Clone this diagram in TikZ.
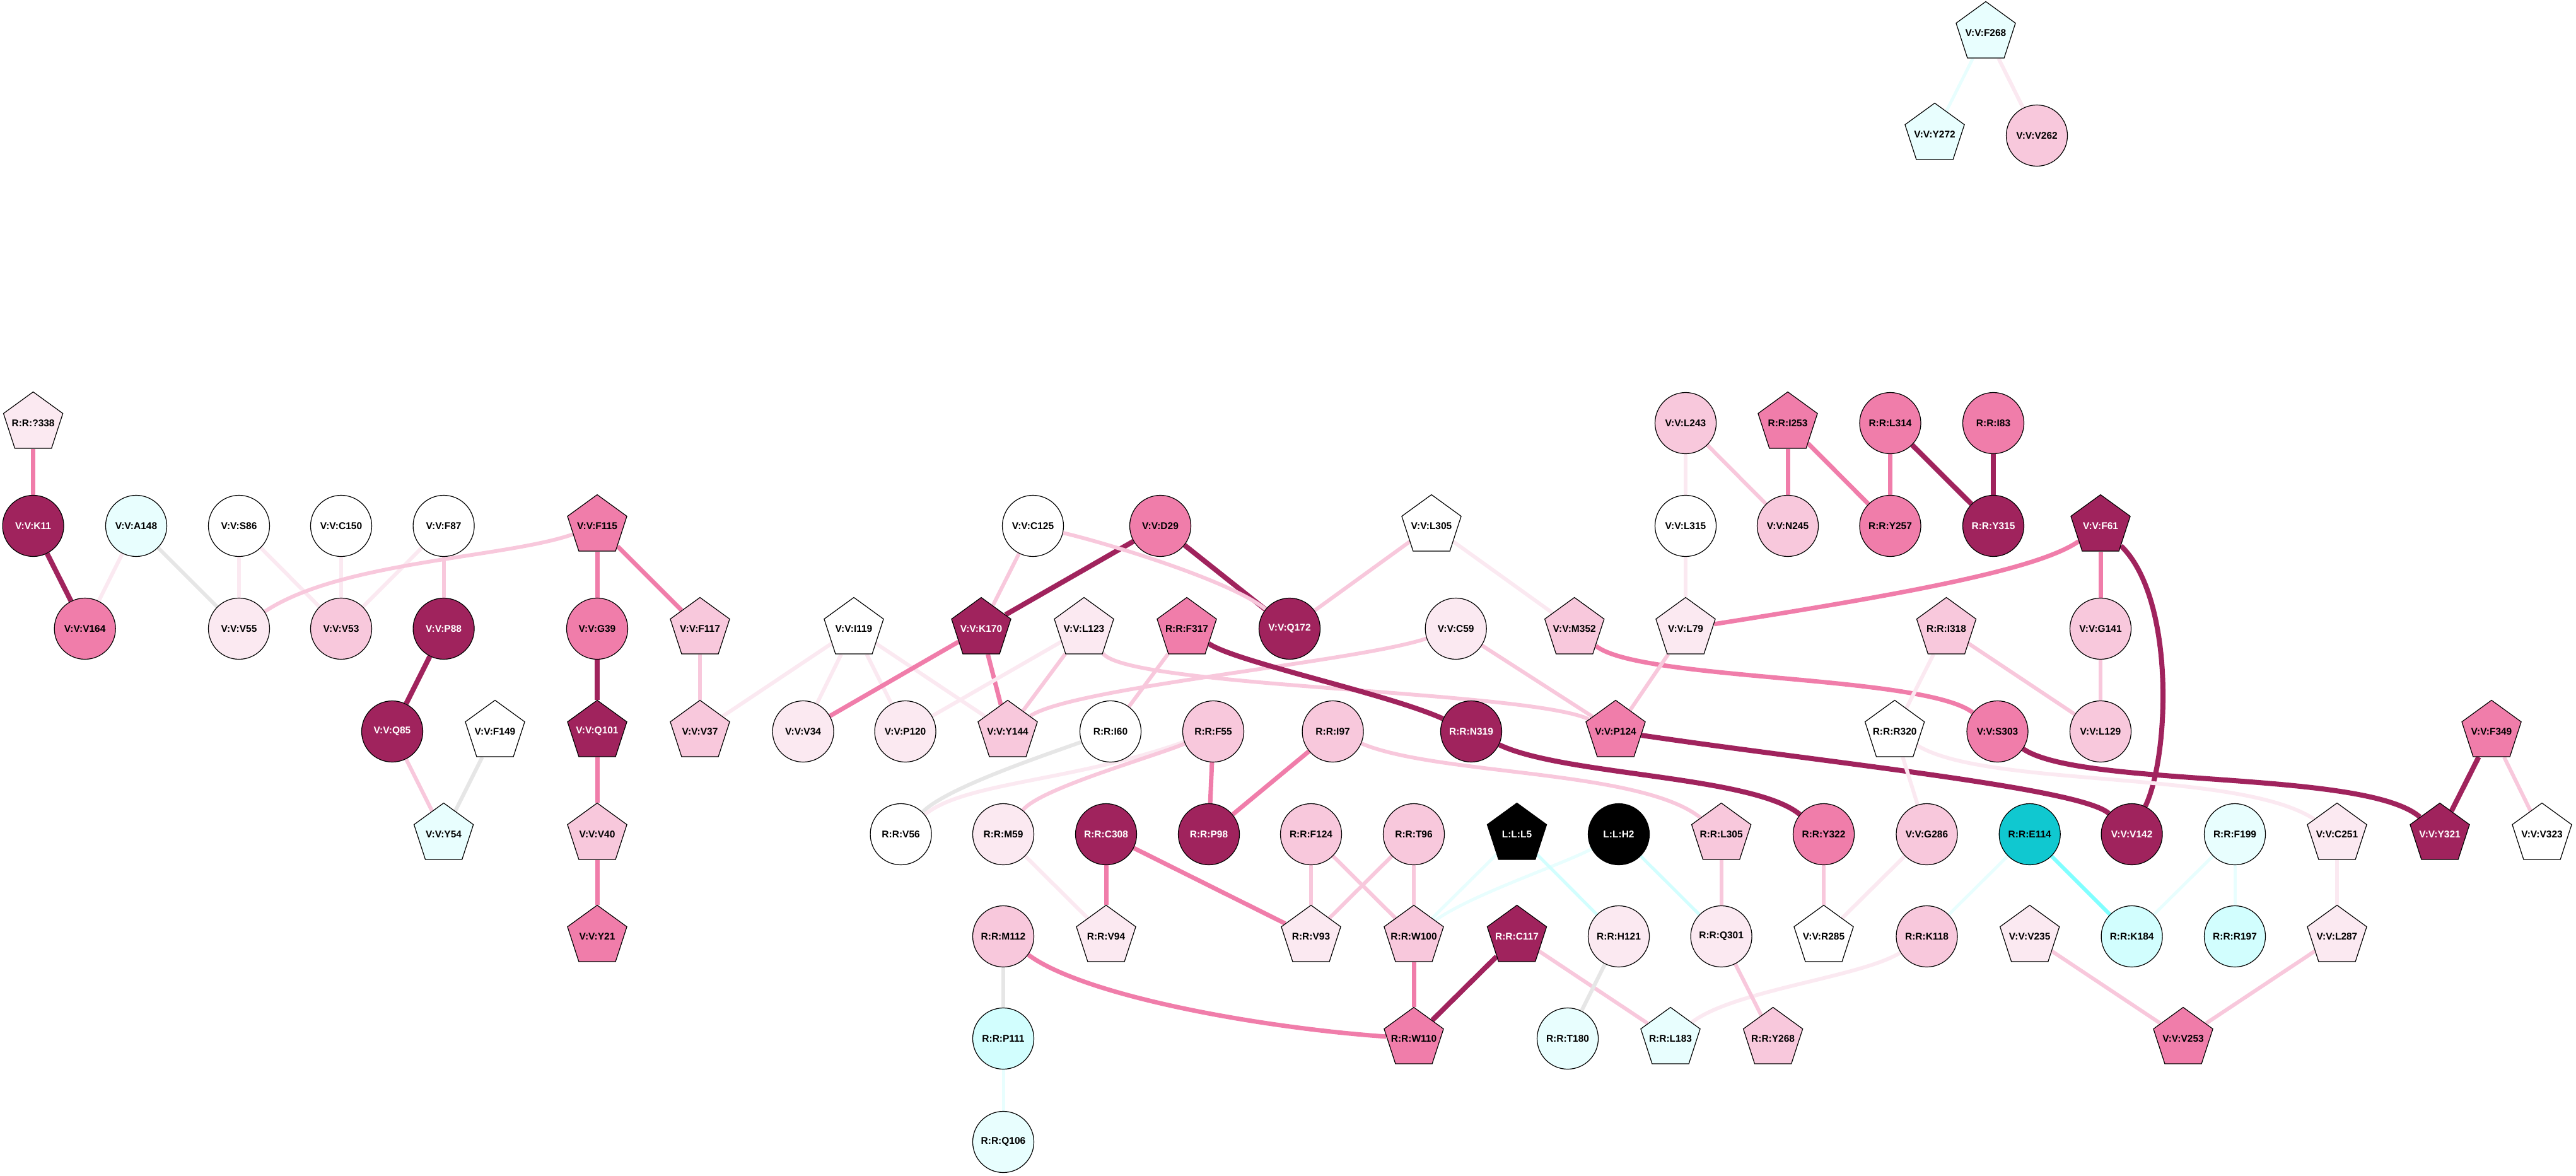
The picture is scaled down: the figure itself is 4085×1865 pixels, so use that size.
\documentclass[tikz,border=0pt]{standalone}
\usepackage{fontspec}
\setmainfont{Liberation Sans}
\usetikzlibrary{shapes.geometric,backgrounds}
\definecolor{dk}{HTML}{A0235D}
\definecolor{md}{HTML}{F07DAA}
\definecolor{lt}{HTML}{F8C8DC}
\definecolor{vl}{HTML}{FBE9F1}
\definecolor{lc}{HTML}{E8FEFE}
\definecolor{cy}{HTML}{D2FEFE}
\definecolor{dc}{HTML}{10C8D0}
\definecolor{gr}{HTML}{E6E6E6}
\definecolor{cm}{HTML}{80FFFF}
\newcommand{\lblfont}{\bfseries\fontsize{15.5}{18}\selectfont}
\newcommand{\tx}[1]{\makebox[0pt]{#1}}
\tikzset{
  nd/.style={draw=black, line width=1.2pt, inner sep=0pt, font=\lblfont, text=black},
  cir/.style={nd, circle, minimum size=97pt},
  pen/.style={nd, regular polygon, regular polygon sides=5, minimum size=99pt},
  wt/.style={text=white},
  edk/.style={draw=dk, line width=8pt},
  emd/.style={draw=md, line width=7pt},
  elt/.style={draw=lt, line width=6pt},
  evl/.style={draw=vl, line width=6pt},
  egr/.style={draw=gr, line width=6pt},
  elc/.style={draw=lc, line width=5pt},
  ecy/.style={draw=cy, line width=5pt},
  ecm/.style={draw=cm, line width=6pt},
}
\begin{document}
\begin{tikzpicture}[x=1pt,y=-1pt]
\useasboundingbox (0,0) rectangle (4085,1865);
% top component
\node[pen,fill=lc] (vF268) at (3149,52) {\tx{V:V:F268}};
\node[pen,fill=lc] (vY272) at (3068,213) {\tx{V:V:Y272}};
\node[cir,fill=lt] (vV262) at (3230,215) {\tx{V:V:V262}};
% row 671
\node[pen,fill=vl] (rQ338) at (52.6,671) {\tx{R:R:?338}};
\node[cir,fill=lt] (vL243) at (2673,671) {\tx{V:V:L243}};
\node[pen,fill=md] (rI253) at (2835,671) {\tx{R:R:I253}};
\node[cir,fill=md] (rL314) at (2997.5,671) {\tx{R:R:L314}};
\node[cir,fill=md] (rI83) at (3161,671) {\tx{R:R:I83}};
% row 834
\node[cir,fill=dk,wt] (vK11) at (52.6,834) {\tx{V:V:K11}};
\node[cir,fill=lc] (vA148) at (216,834) {\tx{V:V:A148}};
\node[cir,fill=white] (vS86) at (379,834) {\tx{V:V:S86}};
\node[cir,fill=white] (vC150) at (541,834) {\tx{V:V:C150}};
\node[cir,fill=white] (vF87) at (703.6,834) {\tx{V:V:F87}};
\node[pen,fill=md] (vF115) at (947,834) {\tx{V:V:F115}};
\node[cir,fill=white] (vC125) at (1638,834) {\tx{V:V:C125}};
\node[cir,fill=md] (vD29) at (1840,834) {\tx{V:V:D29}};
\node[pen,fill=white] (vL305) at (2270,834) {\tx{V:V:L305}};
\node[cir,fill=white] (vL315) at (2673,834) {\tx{V:V:L315}};
\node[cir,fill=lt] (vN245) at (2835,834) {\tx{V:V:N245}};
\node[cir,fill=md] (rY257) at (2997.5,834) {\tx{R:R:Y257}};
\node[cir,fill=dk,wt] (rY315) at (3161,834) {\tx{R:R:Y315}};
\node[pen,fill=dk,wt] (vF61) at (3331,834) {\tx{V:V:F61}};
% row 997
\node[cir,fill=md] (vV164) at (134.7,997) {\tx{V:V:V164}};
\node[cir,fill=vl] (vV55) at (379,997) {\tx{V:V:V55}};
\node[cir,fill=lt] (vV53) at (541,997) {\tx{V:V:V53}};
\node[cir,fill=dk,wt] (vP88) at (703.6,997) {\tx{V:V:P88}};
\node[cir,fill=md] (vG39) at (947,997) {\tx{V:V:G39}};
\node[pen,fill=lt] (vF117) at (1110,997) {\tx{V:V:F117}};
\node[pen,fill=white] (vI119) at (1354,997) {\tx{V:V:I119}};
\node[pen,fill=dk,wt] (vK170) at (1556,997) {\tx{V:V:K170}};
\node[pen,fill=vl] (vL123) at (1719,997) {\tx{V:V:L123}};
\node[pen,fill=md] (rF317) at (1882,997) {\tx{R:R:F317}};
\node[cir,fill=dk,wt] (vQ172) at (2045,997) {\tx{V:V:Q172}};
\node[cir,fill=vl] (vC59) at (2308.7,997) {\tx{V:V:C59}};
\node[pen,fill=lt] (vM352) at (2496.7,997) {\tx{V:V:M352}};
\node[pen,fill=vl] (vL79) at (2673,997) {\tx{V:V:L79}};
\node[pen,fill=lt] (rI318) at (3086.5,997) {\tx{R:R:I318}};
\node[cir,fill=lt] (vG141) at (3331,997) {\tx{V:V:G141}};
% row 1160
\node[cir,fill=dk,wt] (vQ85) at (622,1160) {\tx{V:V:Q85}};
\node[pen,fill=white] (vF149) at (785,1160) {\tx{V:V:F149}};
\node[pen,fill=dk,wt] (vQ101) at (947,1160) {\tx{V:V:Q101}};
\node[pen,fill=lt] (vV37) at (1110,1160) {\tx{V:V:V37}};
\node[cir,fill=vl] (vV34) at (1273.6,1160) {\tx{V:V:V34}};
\node[cir,fill=vl] (vP120) at (1435.6,1160) {\tx{V:V:P120}};
\node[pen,fill=lt] (vY144) at (1598,1160) {\tx{V:V:Y144}};
\node[cir,fill=white] (rI60) at (1761,1160) {\tx{R:R:I60}};
\node[cir,fill=lt] (rF55) at (1924,1160) {\tx{R:R:F55}};
\node[cir,fill=lt] (rI97) at (2113.6,1160) {\tx{R:R:I97}};
\node[cir,fill=dk,wt] (rN319) at (2333,1160) {\tx{R:R:N319}};
\node[pen,fill=md] (vP124) at (2562,1160) {\tx{V:V:P124}};
\node[pen,fill=white] (rR320) at (3004.6,1160) {\tx{R:R:R320}};
\node[cir,fill=md] (vS303) at (3167.5,1160) {\tx{V:V:S303}};
\node[cir,fill=lt] (vL129) at (3331,1160) {\tx{V:V:L129}};
\node[pen,fill=md] (vF349) at (3951,1160) {\tx{V:V:F349}};
% row 1323
\node[pen,fill=lc] (vY54) at (703.6,1323) {\tx{V:V:Y54}};
\node[pen,fill=lt] (vV40) at (947,1323) {\tx{V:V:V40}};
\node[cir,fill=white] (rV56) at (1428.6,1323) {\tx{R:R:V56}};
\node[cir,fill=vl] (rM59) at (1591,1323) {\tx{R:R:M59}};
\node[cir,fill=dk,wt] (rC308) at (1754,1323) {\tx{R:R:C308}};
\node[cir,fill=dk,wt] (rP98) at (1917,1323) {\tx{R:R:P98}};
\node[cir,fill=lt] (rF124) at (2079,1323) {\tx{R:R:F124}};
\node[cir,fill=lt] (rT96) at (2242,1323) {\tx{R:R:T96}};
\node[pen,fill=black,wt] (lL5) at (2405.5,1323) {\tx{L:L:L5}};
\node[cir,fill=black,wt] (lH2) at (2567,1323) {\tx{L:L:H2}};
\node[pen,fill=lt] (rL305) at (2729.6,1323) {\tx{R:R:L305}};
\node[cir,fill=md] (rY322) at (2892,1323) {\tx{R:R:Y322}};
\node[cir,fill=lt] (vG286) at (3055.5,1323) {\tx{V:V:G286}};
\node[cir,fill=dc] (rE114) at (3218.7,1323) {\tx{R:R:E114}};
\node[cir,fill=dk,wt] (vV142) at (3380.6,1323) {\tx{V:V:V142}};
\node[cir,fill=lc] (rF199) at (3544,1323) {\tx{R:R:F199}};
\node[pen,fill=vl] (vC251) at (3706,1323) {\tx{V:V:C251}};
\node[pen,fill=dk,wt] (vY321) at (3869,1323) {\tx{V:V:Y321}};
\node[pen,fill=white] (vV323) at (4031,1323) {\tx{V:V:V323}};
% row 1485
\node[pen,fill=md] (vY21) at (947,1485) {\tx{V:V:Y21}};
\node[cir,fill=lt] (rM112) at (1591,1485) {\tx{R:R:M112}};
\node[pen,fill=vl] (rV94) at (1754,1485) {\tx{R:R:V94}};
\node[pen,fill=vl] (rV93) at (2079,1485) {\tx{R:R:V93}};
\node[pen,fill=lt] (rW100) at (2242,1485) {\tx{R:R:W100}};
\node[pen,fill=dk,wt] (rC117) at (2405.5,1485) {\tx{R:R:C117}};
\node[cir,fill=vl] (rH121) at (2567,1485) {\tx{R:R:H121}};
\node[cir,fill=vl] (rQ301) at (2729.6,1485) {\tx{R:R:Q301}};
\node[pen,fill=white] (vR285) at (2892,1485) {\tx{V:V:R285}};
\node[cir,fill=lt] (rK118) at (3055.5,1485) {\tx{R:R:K118}};
\node[pen,fill=vl] (vV235) at (3218.7,1485) {\tx{V:V:V235}};
\node[cir,fill=cy] (rK184) at (3380.6,1485) {\tx{R:R:K184}};
\node[cir,fill=cy] (rR197) at (3544,1485) {\tx{R:R:R197}};
\node[pen,fill=vl] (vL287) at (3706,1485) {\tx{V:V:L287}};
% row 1647
\node[cir,fill=cy] (rP111) at (1591,1647) {\tx{R:R:P111}};
\node[pen,fill=md] (rW110) at (2242,1647) {\tx{R:R:W110}};
\node[cir,fill=lc] (rT180) at (2486,1647) {\tx{R:R:T180}};
\node[pen,fill=lc] (rL183) at (2649,1647) {\tx{R:R:L183}};
\node[pen,fill=lt] (rY268) at (2811.6,1647) {\tx{R:R:Y268}};
\node[pen,fill=md] (vV253) at (3462,1647) {\tx{V:V:V253}};
% row 1811
\node[cir,fill=lc] (rQ106) at (1591,1811) {\tx{R:R:Q106}};

\begin{pgfonlayer}{background}
\draw[elc] (vF268) -- (vY272);
\draw[evl] (vF268) -- (vV262);
\draw[emd] (rQ338) -- (vK11);
\draw[edk] (vK11) -- (vV164);
\draw[evl] (vA148) -- (vV164);
\draw[egr] (vA148) -- (vV55);
\draw[evl] (vS86) -- (vV55);
\draw[evl] (vS86) -- (vV53);
\draw[evl] (vC150) -- (vV53);
\draw[evl] (vF87) -- (vV53);
\draw[elt] (vF87) -- (vP88);
\draw[elt] (vF115) .. controls (800,885) and (540,890) .. (vV55);
\draw[emd] (vF115) -- (vG39);
\draw[emd] (vF115) -- (vF117);
\draw[edk] (vP88) -- (vQ85);
\draw[edk] (vG39) -- (vQ101);
\draw[elt] (vQ85) -- (vY54);
\draw[egr] (vF149) -- (vY54);
\draw[emd] (vQ101) -- (vV40);
\draw[emd] (vV40) -- (vY21);
\draw[elt] (vF117) -- (vV37);
\draw[evl] (vI119) -- (vV37);
\draw[evl] (vI119) -- (vV34);
\draw[evl] (vI119) -- (vP120);
\draw[evl] (vI119) -- (vY144);
\draw[emd] (vK170) -- (vV34);
\draw[emd] (vK170) -- (vY144);
\draw[elt] (vC125) -- (vK170);
\draw[edk] (vD29) -- (vK170);
\draw[edk] (vD29) -- (vQ172);
\draw[elt] (vC125) .. controls (1750,860) and (1950,920) .. (vQ172);
\draw[evl] (vL123) -- (vP120);
\draw[elt] (vL123) -- (vY144);
\draw[elt] (vL123) .. controls (1790,1090) and (2420,1095) .. (vP124);
\draw[elt] (vY144) .. controls (1700,1090) and (2150,1050) .. (vC59);
\draw[elt] (rF317) -- (rI60);
\draw[edk] (rF317) .. controls (1960,1050) and (2200,1100) .. (rN319);
\draw[egr] (rI60) .. controls (1650,1200) and (1500,1250) .. (rV56);
\draw[evl] (rF55) .. controls (1700,1240) and (1530,1240) .. (rV56);
\draw[elt] (rF55) .. controls (1830,1200) and (1650,1250) .. (rM59);
\draw[emd] (rF55) -- (rP98);
\draw[emd] (rI97) -- (rP98);
\draw[elt] (rI97) .. controls (2280,1230) and (2600,1220) .. (rL305);
\draw[edk] (rN319) .. controls (2480,1230) and (2780,1230) .. (rY322);
\draw[edk] (vP124) .. controls (2900,1210) and (3300,1250) .. (vV142);
\draw[elt] (vC59) -- (vP124);
\draw[elt] (vL305) -- (vQ172);
\draw[evl] (vL305) -- (vM352);
\draw[emd] (vM352) .. controls (2600,1080) and (3050,1070) .. (vS303);
\draw[elt] (vL79) -- (vP124);
\draw[evl] (vL315) -- (vL79);
\draw[evl] (vL243) -- (vL315);
\draw[elt] (vL243) -- (vN245);
\draw[emd] (rI253) -- (vN245);
\draw[emd] (rI253) -- (rY257);
\draw[emd] (rL314) -- (rY257);
\draw[edk] (rL314) -- (rY315);
\draw[edk] (rI83) -- (rY315);
\draw[emd] (vF61) .. controls (3230,905) and (3000,945) .. (vL79);
\draw[emd] (vF61) -- (vG141);
\draw[edk] (vF61) .. controls (3450,950) and (3440,1200) .. (vV142);
\draw[elt] (vG141) -- (vL129);
\draw[elt] (rI318) -- (vL129);
\draw[evl] (rI318) -- (rR320);
\draw[evl] (rR320) -- (vG286);
\draw[evl] (rR320) .. controls (3150,1250) and (3550,1220) .. (vC251);
\draw[edk] (vS303) .. controls (3300,1250) and (3750,1220) .. (vY321);
\draw[edk] (vF349) -- (vY321);
\draw[elt] (vF349) -- (vV323);
\draw[elt] (rF124) -- (rV93);
\draw[elt] (rF124) -- (rW100);
\draw[elt] (rT96) -- (rV93);
\draw[elt] (rT96) -- (rW100);
\draw[elc] (lL5) -- (rW100);
\draw[elc] (lH2) .. controls (2480,1370) and (2330,1420) .. (rW100);
\draw[ecy] (lL5) -- (rH121);
\draw[ecy] (lH2) -- (rQ301);
\draw[emd] (rC308) -- (rV94);
\draw[emd] (rC308) -- (rV93);
\draw[evl] (rM59) -- (rV94);
\draw[egr] (rM112) -- (rP111);
\draw[elc] (rP111) -- (rQ106);
\draw[emd] (rM112) .. controls (1720,1580) and (2000,1630) .. (rW110);
\draw[emd] (rW100) -- (rW110);
\draw[edk] (rC117) -- (rW110);
\draw[elt] (rC117) -- (rL183);
\draw[egr] (rH121) -- (rT180);
\draw[evl] (rK118) .. controls (2950,1550) and (2750,1570) .. (rL183);
\draw[elt] (rQ301) -- (rY268);
\draw[elt] (rL305) -- (rQ301);
\draw[elt] (rY322) -- (vR285);
\draw[evl] (vG286) -- (vR285);
\draw[elc] (rE114) -- (rK118);
\draw[ecm] (rE114) -- (rK184);
\draw[elc] (rF199) -- (rK184);
\draw[elc] (rF199) -- (rR197);
\draw[evl] (vC251) -- (vL287);
\draw[elt] (vV235) -- (vV253);
\draw[elt] (vL287) -- (vV253);
\end{pgfonlayer}
\end{tikzpicture}
\end{document}
